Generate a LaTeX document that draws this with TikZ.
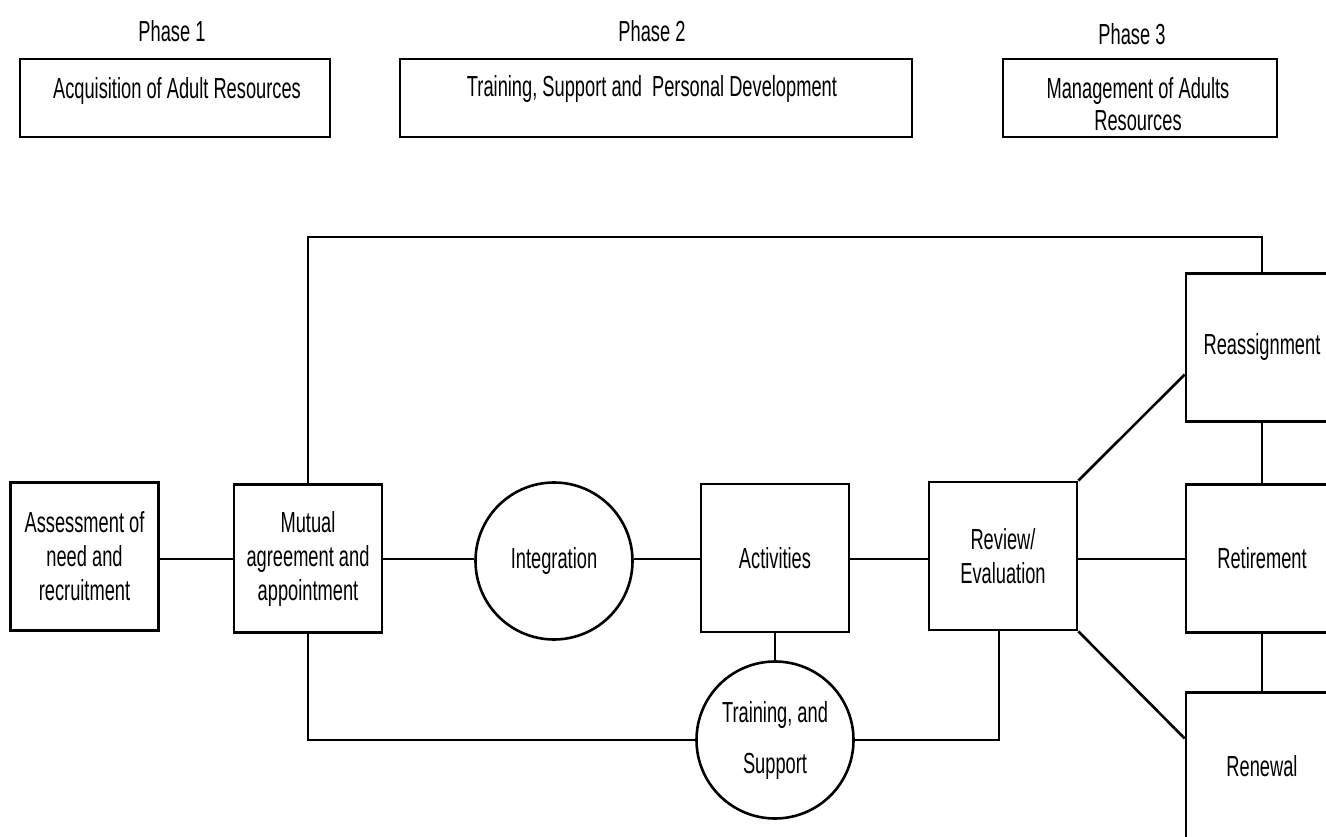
\documentclass[tikz,border=0pt]{standalone}
\usepackage{fontspec}
\setmainfont{Liberation Sans}[FakeStretch=0.63]
\begin{document}
\begin{tikzpicture}[x=1pt,y=-1pt,line width=2.6pt,
  txt/.style={font=\fontsize{29}{32}\selectfont,align=center,inner sep=0pt},
  phbox/.style={draw,rectangle,inner sep=0pt,minimum height=78pt},
  box/.style={draw,rectangle,minimum width=148pt,minimum height=148pt,inner sep=0pt,align=center,font=\fontsize{29}{34}\selectfont},
  rbox/.style={box,minimum width=152pt},
  circ/.style={draw,circle,minimum size=157pt,inner sep=0pt,align=center,font=\fontsize{29}{34}\selectfont}]
\useasboundingbox (0,0) rectangle (1326,837);
\clip (0,0) rectangle (1326,837);
% phases
\node[txt] (p1) at (172,31) {Phase 1};
\node[txt] (p2) at (652,31) {Phase 2};
\node[txt] (p3) at (1132,34) {Phase 3};
\node[phbox,minimum width=310pt] (b1) at (175,98) {};
\node[txt] (t1) at (177,91) {Acquisition of Adult Resources};
\node[phbox,minimum width=512pt] (b2) at (656,98) {};
\node[txt] (t2) at (652,89) {Training, Support and\ \ Personal Development};
\node[phbox,minimum width=274pt] (b3) at (1140,98) {};
\node[txt] (t3) at (1138,104) {Management of Adults\\Resources};
% flow
\coordinate (mainy) at (0,559);
\node[box] (assess) at (84.5,556.5) {Assessment of\\need and\\recruitment};
\node[box] (mut) at (308,558.5) {Mutual\\agreement and\\appointment};
\node[circ] (integ) at (554,561) {Integration};
\node[box] (act) at (775,558) {Activities};
\node[box] (rev) at (1003,556) {Review/\\Evaluation};
\node[rbox] (reas) at (1262,347.5) {Reassignment};
\node[rbox] (ret) at (1262,558.5) {Retirement};
\node[rbox] (ren) at (1262,766.5) {Renewal};
\node[circ,font=\fontsize{29}{51}\selectfont] (trn) at (775,740) {Training, and\\Support};
\coordinate (topc) at (700,237);
\draw (assess.east |- mainy) -- (mut.west |- mainy);
\draw (mut.east |- mainy) -- (integ.west |- mainy);
\draw (integ.east |- mainy) -- (act.west |- mainy);
\draw (act.east |- mainy) -- (rev.west |- mainy);
\draw (rev.east |- mainy) -- (ret.west |- mainy);
\draw (act.south) -- (trn.north);
\draw (mut.south) |- (trn.west);
\draw (trn.east) -| ([xshift=-4pt]rev.south);
\draw (mut.north) |- (topc) -| (reas.north);
\draw (rev.north east) -- ([yshift=-27pt]reas.west);
\draw (rev.south east) -- ([yshift=28pt]ren.west);
\draw (reas.south) -- (ret.north);
\draw (ret.south) -- (ren.north);
\end{tikzpicture}
\end{document}
